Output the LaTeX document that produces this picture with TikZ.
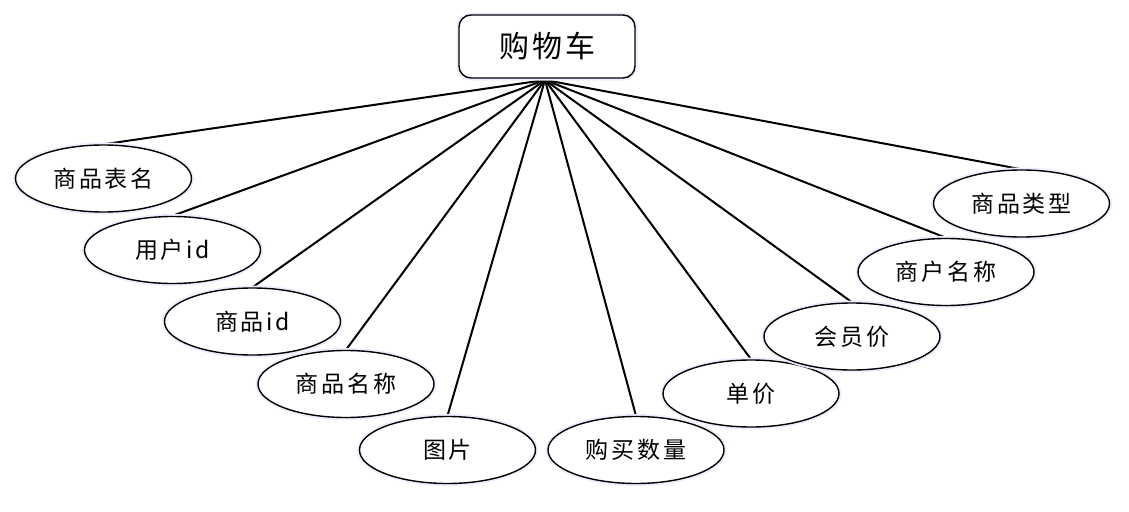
\documentclass[tikz,border=0pt]{standalone}
\usepackage{fontspec}
\usetikzlibrary{shapes.geometric,backgrounds}
\newfontfamily\cjk[LetterSpace=12]{Noto Sans CJK SC}
\newfontfamily\cjkroot[LetterSpace=10]{Noto Sans CJK SC}
\begin{document}
\begin{tikzpicture}[x=1pt,y=-1pt,
  glow/.style={preaction={draw=blue!7, line width=5pt}},
  attr/.style={draw=black, line width=1.4pt, ellipse, minimum width=176pt, minimum height=67pt, inner sep=0pt, font=\cjk\fontsize{23}{25}\selectfont, fill=white, glow},
  root/.style={draw=black, line width=1.4pt, rounded corners=12pt, minimum width=176pt, minimum height=63pt, inner sep=0pt, font=\cjkroot\fontsize{30}{33}\selectfont, fill=white, glow},
  link/.style={line width=2pt, black}]
\useasboundingbox (0,0) rectangle (1129,511);
\node[root] (r) at (547,46.5) {购物车};
\coordinate (hub) at (545,80);
\node[attr] (a1) at (103.5,178.5) {商品表名};
\node[attr] (a2) at (172.5,250) {用户id};
\node[attr] (a3) at (252.5,321.5) {商品id};
\node[attr] (a4) at (346,384) {商品名称};
\node[attr] (a5) at (447.5,450) {图片};
\node[attr] (a6) at (636,450) {购买数量};
\node[attr] (a7) at (751,393.5) {单价};
\node[attr] (a8) at (852,336.5) {会员价};
\node[attr] (a9) at (946,272) {商户名称};
\node[attr] (a10) at (1021.5,203.5) {商品类型};
\begin{scope}[on background layer]
\foreach \i in {1,...,10} \draw[link] (hub) -- (a\i.north);
\end{scope}
\end{tikzpicture}
\end{document}
